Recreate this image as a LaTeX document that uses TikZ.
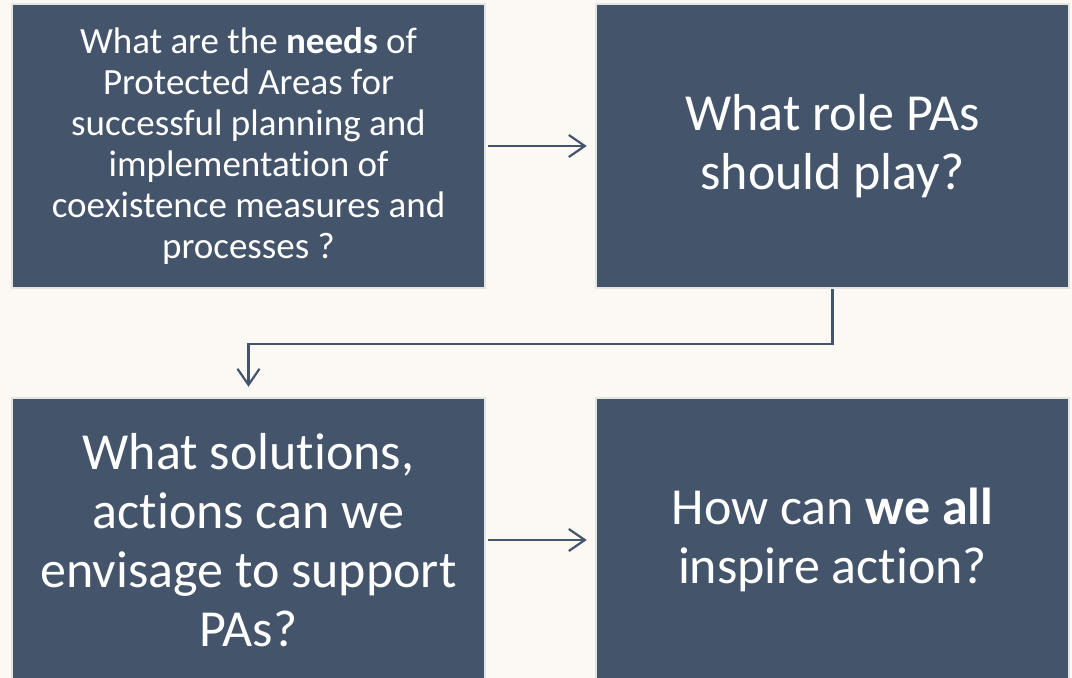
\documentclass[tikz,border=0pt]{standalone}
\usepackage{fontspec}
\setmainfont[Ligatures=NoCommon]{Carlito}
\usetikzlibrary{arrows.meta}
\definecolor{slate}{HTML}{44546A}
\definecolor{paper}{HTML}{FCF8F4}
\definecolor{rim}{HTML}{E6E4E1}
\tikzset{
	qbox/.style={fill=slate, draw=rim, line width=2.5pt, text=white,
		minimum width=473pt, minimum height=284pt, align=center, inner sep=0pt},
	small/.style={font=\fontsize{37}{41}\selectfont},
	big/.style={font=\fontsize{52}{59}\selectfont},
	flow/.style={draw=slate, line width=2.2pt,
		-{Straight Barb[length=16pt,width=22pt,line width=2.2pt]}},
}
\begin{document}
\begin{tikzpicture}[x=1pt,y=-1pt]
	% canvas
	\fill[paper] (0,0) rectangle (1072,678);
	\useasboundingbox (0,0) rectangle (1072,678);
	% Questions
	\node[qbox,small] (needs) at (248.5,146) {What are the \textbf{needs} of\\Protected Areas for\\successful planning and\\implementation of\\coexistence measures and\\processes ?};
	\node[qbox,big] (role) at (832.5,146) {What role PAs\\should play?};
	\node[qbox,big] (solutions) at (248.5,540) {What solutions,\\actions can we\\envisage to support\\PAs?};
	\node[qbox,big] (inspire) at (832.5,540) {How can \textbf{we all}\\inspire action?};
	% Arrows
	\draw[flow, shorten <=2pt, shorten >=8pt] (needs.east) -- (role.west);
	\draw[flow, shorten >=10pt] (role.south) -- ++(0,55) -| (solutions.north);
	\draw[flow, shorten <=2pt, shorten >=8pt] (solutions.east) -- (inspire.west);
\end{tikzpicture}
\end{document}
